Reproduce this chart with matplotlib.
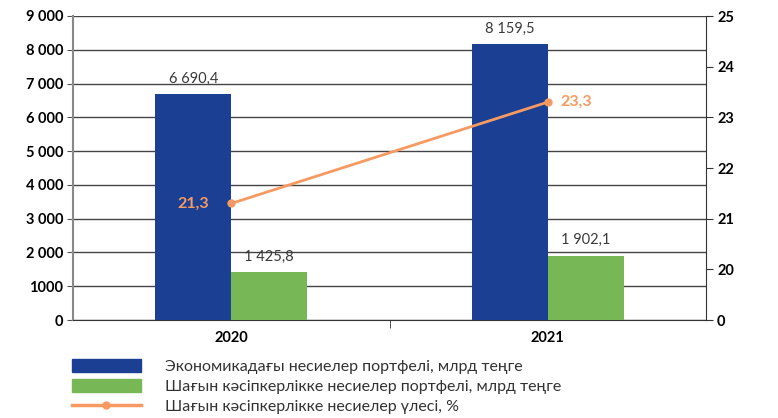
import matplotlib.pyplot as plt
import numpy as np
from matplotlib.patches import Patch
from matplotlib.lines import Line2D

years = ["2020", "2021"]
total_loans = [6690.4, 8159.5]
sme_loans = [1425.8, 1902.1]
sme_share = [21.3, 23.3]

total_labels = ["6 690,4", "8 159,5"]
sme_labels = ["1 425,8", "1 902,1"]
share_labels = ["21,3", "23,3"]

left_ticks = [0, 1000, 2000, 3000, 4000, 5000, 6000, 7000, 8000, 9000]
left_ticklabels = ["0", "1000", "2 000", "3 000", "4 000", "5 000", "6 000", "7 000", "8 000", "9 000"]
right_ticks = [0, 20, 21, 22, 23, 24, 25]

legend_names = ["Экономикадағы несиелер портфелі, млрд теңге",
                "Шағын кәсіпкерлікке несиелер портфелі, млрд теңге",
                "Шағын кәсіпкерлікке несиелер үлесі, %"]

blue = "#1a3f93"
green = "#77b755"
orange = "#f79a62"

plt.rcParams['font.family'] = ['Lato', 'DejaVu Sans']


def right_pos(v):
    # broken right axis: 0, then 20..25
    v = np.asarray(v, dtype=float)
    return np.where(v >= 20, v - 19, v / 20.0)


fig = plt.figure(figsize=(7.78, 4.18), dpi=100)
ax = fig.add_axes([73 / 778, 1 - 320 / 418, 633 / 778, 304 / 418])
ax2 = ax.twinx()

x = np.arange(len(years))
w = 0.24
ax.bar(x - w / 2, total_loans, w, color=blue, zorder=3)
ax.bar(x + w / 2, sme_loans, w, color=green, zorder=3)

for i in range(len(years)):
    ax.text(x[i] - w / 2, total_loans[i] + 250, total_labels[i], ha="center", va="bottom",
            fontsize=10.5, color="#3a3a3a", zorder=4)
    ax.text(x[i] + w / 2, sme_loans[i] + 250, sme_labels[i], ha="center", va="bottom",
            fontsize=10.5, color="#3a3a3a", zorder=4)

ax.set_xlim(-0.5, 1.5)
ax.set_ylim(0, 9000)
ax.set_yticks(left_ticks)
ax.set_yticklabels(left_ticklabels, fontsize=10.5, fontweight="bold")
ax.yaxis.grid(True, color="#444444", linewidth=1.0, zorder=0)
ax.set_axisbelow(True)
ax.tick_params(axis="y", length=4, color="#555555", pad=3)

ax.set_xticks(x)
ax.set_xticklabels(years, fontsize=10.5, fontweight="bold")
ax.tick_params(axis="x", length=0, pad=8)
ax.set_xticks([0.5], minor=True)
ax.tick_params(axis="x", which="minor", length=6, color="#333333")

ax.spines["top"].set_visible(False)
ax.spines["left"].set_color("#888888")
ax.spines["left"].set_linewidth(1.5)
ax.spines["bottom"].set_color("#333333")
ax.spines["right"].set_visible(False)

ypos = right_pos(sme_share)
ax2.plot(x, ypos, color=orange, linewidth=2, marker="o", markersize=5, zorder=5)
ax2.set_ylim(0, 6)
ax2.set_yticks(right_pos(right_ticks))
ax2.set_yticklabels([str(t) for t in right_ticks], fontsize=10.5, fontweight="bold")
ax2.tick_params(axis="y", length=5, color="#333333", pad=3)
for s in ["top", "left", "bottom"]:
    ax2.spines[s].set_visible(False)
ax2.spines["right"].set_color("#333333")

ax2.text(x[0] - 0.07, ypos[0], share_labels[0], ha="right", va="center",
         fontsize=11.5, fontweight="bold", color=orange)
ax2.text(x[1] + 0.04, ypos[1], share_labels[1], ha="left", va="center",
         fontsize=11.5, fontweight="bold", color=orange)

# legend
handles = [Patch(color=blue), Patch(color=green),
           Line2D([0], [0], color=orange, linewidth=2.5, marker="o", markersize=5)]
leg = fig.legend(handles, legend_names, loc="upper left", bbox_to_anchor=(72 / 778, 1 - 359 / 418),
                 frameon=False, fontsize=11.5, handlelength=4.3, handleheight=0.85,
                 handletextpad=1.5, labelspacing=0.32, borderpad=0, borderaxespad=0)
for t in leg.get_texts():
    t.set_color("#333333")

fig.savefig("out.png", dpi=100)
